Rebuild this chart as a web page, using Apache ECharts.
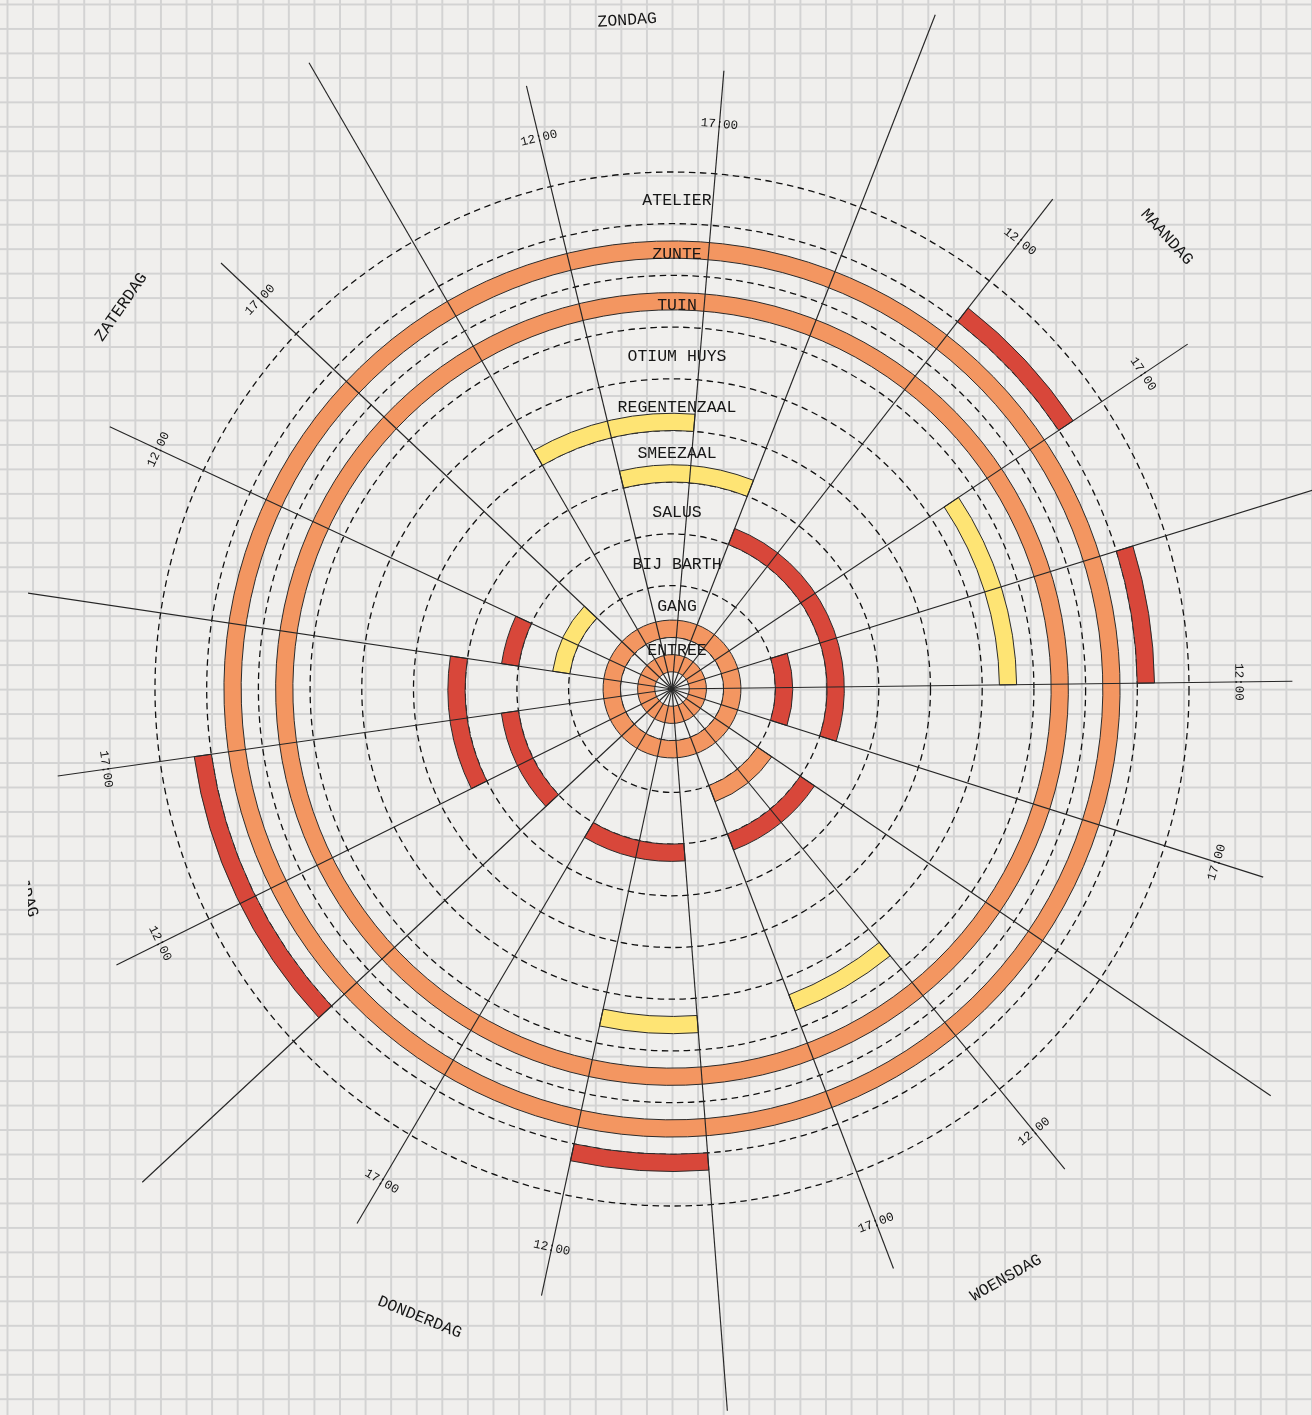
<!DOCTYPE html>
<html>
<head>
<meta charset="utf-8">
<script src="https://cdn.jsdelivr.net/npm/echarts@6/dist/echarts.min.js"></script>
<style>
html, body {
  margin: 0; padding: 0; width: 1312px; height: 1415px; overflow: hidden;
  background-color: #f0efed;
  background-image:
    linear-gradient(90deg, #d3d3d3 1.6px, transparent 1.6px),
    linear-gradient(180deg, #d3d3d3 1.6px, transparent 1.6px);
  background-size: 25.59px 24.48px;
  background-position: 6.5px 3.5px;
}
#chart { position: absolute; left: 28px; top: 0; width: 1284px; height: 1415px; }
</style>
</head>
<body>
<div id="chart"></div>
<script>
// ---------- DATA ----------
const ROOMS = ['ENTREE', 'GANG', 'BIJ BARTH', 'SALUS', 'SMEEZAAL', 'REGENTENZAAL', 'OTIUM HUYS', 'TUIN', 'ZUNTE', 'ATELIER'];
const DAYS = ['ZONDAG', 'MAANDAG', 'DINSDAG', 'WOENSDAG', 'DONDERDAG', 'VRIJDAG', 'ZATERDAG'];
const DAY_START_HOUR = 7.5;
const DAY_END_HOUR = 21.5;
const TIME_TICK_LABELS = ['12:00', '17:00'];
const TIME_TICK_HOURS = [12, 17];
const LANES_PER_ROOM = 3;

// bookings (one entry per bar)
const BOOK_ROOM = ['ATELIER', 'ATELIER', 'ATELIER', 'ATELIER', 'ZUNTE', 'TUIN', 'OTIUM HUYS', 'OTIUM HUYS', 'OTIUM HUYS',
  'REGENTENZAAL', 'SMEEZAAL', 'SMEEZAAL', 'SALUS', 'SALUS', 'SALUS', 'SALUS', 'SALUS', 'BIJ BARTH', 'BIJ BARTH', 'BIJ BARTH', 'GANG', 'ENTREE'];
const BOOK_LANE = [0, 0, 0, 0, 1, 1, 1, 1, 1, 0, 0, 0, 0, 0, 0, 0, 0, 0, 0, 0, 0, 1];
const BOOK_TYPE = ['rood', 'rood', 'rood', 'rood', 'oranje', 'oranje', 'geel', 'geel', 'geel',
  'geel', 'geel', 'rood', 'rood', 'rood', 'rood', 'rood', 'rood', 'rood', 'oranje', 'geel', 'oranje', 'oranje'];
const BOOK_FROM_DAY  = [1, 2, 4, 5, 0, 0, 1, 3, 4, 0, 0, 5, 1, 3, 4, 5, 6, 2, 3, 6, 0, 0];
const BOOK_FROM_HOUR = [12, 7.5, 7.5, 7.5, 7.5, 7.5, 17, 12, 7.5, 7.5, 12, 12, 7.5, 7.5, 7.5, 7.5, 7.5, 7.5, 7.5, 7.5, 7.5, 7.5];
const BOOK_TO_DAY    = [1, 2, 4, 5, 6, 6, 2, 3, 4, 0, 0, 5, 2, 3, 4, 5, 6, 2, 3, 6, 6, 6];
const BOOK_TO_HOUR   = [17, 12, 12, 17, 21.5, 21.5, 12, 17, 12, 17, 21.5, 21.5, 17, 17, 17, 17, 12, 17, 17, 17, 21.5, 21.5];

// ---------- STYLE / LAYOUT ----------
const TYPE_COLORS = { rood: '#d8473a', oranje: '#f39661', geel: '#fee474' };
const TEXT_COLOR = '#161616';
const FONT = '"Liberation Mono", "DejaVu Sans Mono", monospace';
const LAYOUT = {
  center: [644, 689], radius: 517, startAngle: 120.1,
  shortSpokeR: 12, longSpokeR: 14,
  timeLabelR: 11.01, timeLabelDrop: 2.5,
  dayLabelR: 13.03, dayLabelDrop: 3.5, dayLabelShift: 0.15,
  roomLabelR: [0.74, 1.6, 2.4, 3.42, 4.56, 5.44, 6.43, 7.42, 8.41, 9.44],
  roomLabelDx: 5
};

// ---------- DERIVED ----------
const HOURS_PER_DAY = DAY_END_HOUR - DAY_START_HOUR;
const WEEK = HOURS_PER_DAY * DAYS.length;
const toV = (day, hour) => day * HOURS_PER_DAY + (hour - DAY_START_HOUR);

const barData = BOOK_ROOM.map((room, i) => [
  ROOMS.indexOf(room), toV(BOOK_FROM_DAY[i], BOOK_FROM_HOUR[i]), toV(BOOK_TO_DAY[i], BOOK_TO_HOUR[i]), BOOK_LANE[i], i
]);

const spokeData = [];
DAYS.forEach((d, i) => {
  spokeData.push([LAYOUT.longSpokeR, toV(i, DAY_START_HOUR)]);
  TIME_TICK_HOURS.forEach(h => spokeData.push([LAYOUT.shortSpokeR, toV(i, h)]));
});

const timeLabelData = [];
DAYS.forEach((d, i) => TIME_TICK_HOURS.forEach((h, k) => timeLabelData.push([LAYOUT.timeLabelR, toV(i, h), k])));
const dayLabelData = DAYS.map((d, i) => [LAYOUT.dayLabelR, toV(i, (DAY_START_HOUR + DAY_END_HOUR) / 2) + LAYOUT.dayLabelShift, i]);
const topValue = (LAYOUT.startAngle - 90) / 360 * WEEK;
const roomLabelData = ROOMS.map((r, i) => [LAYOUT.roomLabelR[i], topValue, i]);

function renderBar(params, api) {
  const cs = params.coordSys, cx = cs.cx, cy = cs.cy;
  const room = api.value(0), a0 = api.value(1), a1 = api.value(2), lane = api.value(3), idx = api.value(4);
  const rInV = room + lane / LANES_PER_ROOM, rOutV = room + (lane + 1) / LANES_PER_ROOM;
  const pIn = api.coord([rInV, a0]), pOut = api.coord([rOutV, a0]), pEnd = api.coord([rInV, a1]);
  const r0 = Math.hypot(pIn[0] - cx, pIn[1] - cy);
  const r = Math.hypot(pOut[0] - cx, pOut[1] - cy);
  const sa = Math.atan2(pIn[1] - cy, pIn[0] - cx);
  const ea = Math.atan2(pEnd[1] - cy, pEnd[0] - cx);
  let sweep = ea - sa;
  while (sweep <= 1e-9) sweep += Math.PI * 2;
  if (a1 - a0 >= WEEK - 1e-9) sweep = Math.PI * 2;
  return {
    type: 'sector',
    shape: { cx: cx, cy: cy, r0: r0, r: r, startAngle: sa, endAngle: sa + sweep, clockwise: true },
    style: { fill: TYPE_COLORS[BOOK_TYPE[idx]], stroke: '#2b2b2b', lineWidth: 1 }
  };
}

function renderSpoke(params, api) {
  const cs = params.coordSys;
  const p = api.coord([api.value(0), api.value(1)]);
  return {
    type: 'line',
    shape: { x1: cs.cx, y1: cs.cy, x2: p[0], y2: p[1] },
    style: { stroke: '#262626', lineWidth: 1.15 }
  };
}

function tangentText(params, api, text, font, drop) {
  const cs = params.coordSys;
  const p = api.coord([api.value(0), api.value(1)]);
  let th = Math.atan2(p[0] - cs.cx, cs.cy - p[1]) * 180 / Math.PI;
  if (th < 0) th += 360;
  let rot = th;
  if (th > 90 && th < 270) rot = th - 180;
  return {
    type: 'text', x: p[0], y: p[1], rotation: -rot * Math.PI / 180,
    style: { text: text, x: 0, y: drop, font: font, fill: TEXT_COLOR, align: 'center', verticalAlign: 'middle' }
  };
}

const chart = echarts.init(document.getElementById('chart'), null, { renderer: 'canvas' });
chart.setOption({
  animation: false,
  backgroundColor: 'transparent',
  polar: { center: LAYOUT.center, radius: LAYOUT.radius },
  angleAxis: {
    type: 'value', min: 0, max: WEEK, startAngle: LAYOUT.startAngle, clockwise: true,
    axisLine: { show: false }, axisTick: { show: false }, axisLabel: { show: false }, splitLine: { show: false }
  },
  radiusAxis: {
    type: 'value', min: 0, max: ROOMS.length, interval: 1,
    axisLine: { show: false }, axisTick: { show: false }, axisLabel: { show: false },
    splitLine: { show: true, lineStyle: { color: '#111', width: 1.3, type: [6.5, 4.5] } }
  },
  series: [
    { type: 'custom', coordinateSystem: 'polar', silent: true, z: 2, data: barData, renderItem: renderBar },
    { type: 'custom', coordinateSystem: 'polar', silent: true, z: 3, data: spokeData, renderItem: renderSpoke },
    { type: 'custom', coordinateSystem: 'polar', silent: true, z: 4, data: timeLabelData,
      renderItem: (p, api) => tangentText(p, api, TIME_TICK_LABELS[api.value(2)], '12.5px ' + FONT, LAYOUT.timeLabelDrop) },
    { type: 'custom', coordinateSystem: 'polar', silent: true, z: 4, data: dayLabelData,
      renderItem: (p, api) => tangentText(p, api, DAYS[api.value(2)], '16.5px ' + FONT, LAYOUT.dayLabelDrop) },
    { type: 'custom', coordinateSystem: 'polar', silent: true, z: 4, data: roomLabelData,
      renderItem: (p, api) => {
        const pt = api.coord([api.value(0), api.value(1)]);
        return { type: 'text', x: pt[0] + LAYOUT.roomLabelDx, y: pt[1],
          style: { text: ROOMS[api.value(2)], font: '16.5px ' + FONT, fill: TEXT_COLOR, align: 'center', verticalAlign: 'middle' } };
      } }
  ]
});
</script>
</body>
</html>
